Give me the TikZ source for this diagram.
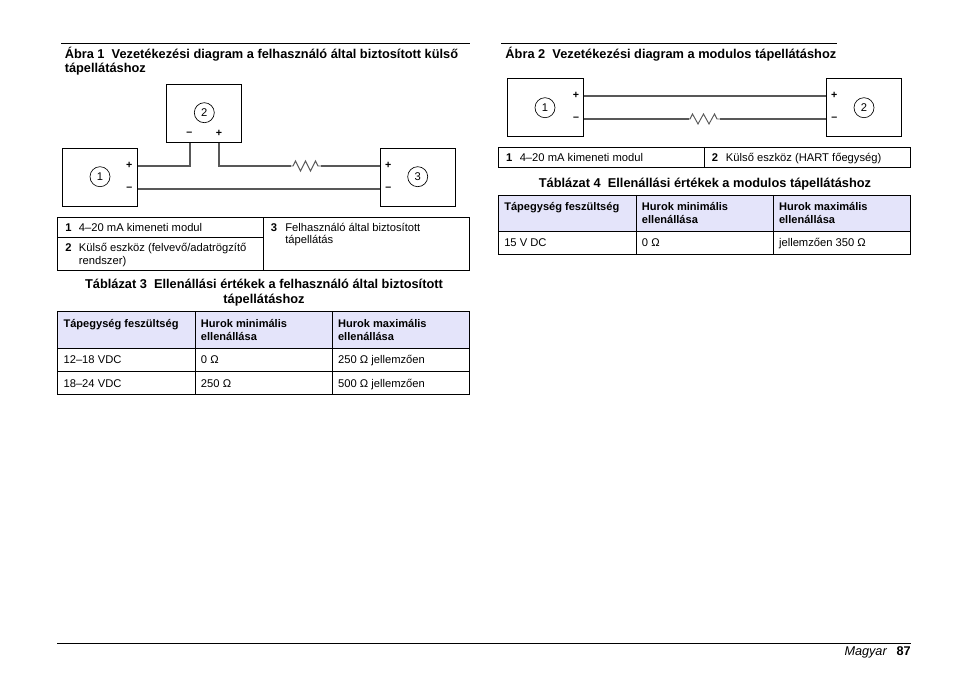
\documentclass[tikz,border=0pt]{standalone}
\usepackage{fontspec}
\setmainfont{Liberation Sans}
\definecolor{hdr}{HTML}{E4E4FA}
\definecolor{wire}{HTML}{585858}
\tikzset{
  x=0.75pt,y=-0.75pt,
  bodytext/.style={anchor=base west,inner sep=0pt,font=\fontsize{8.4}{9}\selectfont},
  boldtext/.style={bodytext,font=\fontsize{8.4}{9}\selectfont\bfseries},
  headtext/.style={anchor=base west,inner sep=0pt,font=\fontsize{8.3}{9}\selectfont\bfseries},
  titletext/.style={anchor=base west,inner sep=0pt,font=\fontsize{9.6}{11}\selectfont\bfseries},
  titlemid/.style={anchor=base,inner sep=0pt,font=\fontsize{9.6}{11}\selectfont\bfseries},
  devbox/.style={draw=black,line width=0.6pt,fill=white,inner sep=0pt},
  numcirc/.style={circle,draw=black,line width=0.5pt,minimum size=15pt,inner sep=0pt,font=\fontsize{8.4}{9}\selectfont},
  sign/.style={inner sep=0pt,font=\fontsize{8}{9}\selectfont\bfseries},
  wireline/.style={draw=wire,line width=1.2pt},
  rule/.style={line width=0.75pt},
  tableline/.style={line width=0.6pt},
}
\newcommand{\devrect}[5]{\node[devbox,minimum width=#4*0.75pt,minimum height=#5*0.75pt] (#1) at (#2,#3) {};}
\begin{document}
\begin{tikzpicture}
\useasboundingbox[fill=white] (0,0) rectangle (954,673);

% ---------- rules
\coordinate (r1a) at (61,43.5); \coordinate (r1b) at (470,43.5);
\coordinate (r2a) at (501,43.5); \coordinate (r2b) at (837,43.5);
\coordinate (r3a) at (57,643.5); \coordinate (r3b) at (911,643.5);
\draw[rule] (r1a) -- (r1b);
\draw[rule] (r2a) -- (r2b);
\draw[rule] (r3a) -- (r3b);

% ---------- titles
\node[titletext] (t1a) at (64.5,58.2) {Ábra 1\ \ Vezetékezési diagram a felhasználó által biztosított külső};
\node[titletext] (t1b) at (64.5,72.2) {tápellátáshoz};
\node[titletext] (t2) at (505.2,58.2) {Ábra 2\ \ Vezetékezési diagram a modulos tápellátáshoz};

% ---------- figure 1
\devrect{a1}{100}{177.5}{75.5}{58}
\devrect{a2}{204.2}{113.3}{75}{58}
\devrect{a3}{417.8}{177.5}{75.6}{58}
\node[numcirc] (c1) at (100,176.7) {1};
\node[numcirc] (c2) at (204.3,112.7) {2};
\node[numcirc] (c3) at (417.7,176.7) {3};
\node[sign] (ap) at (129.3,165.2) {+};
\node[sign] (am) at (129.3,189) {–};
\node[sign] (bm) at (189.3,134.3) {–};
\node[sign] (bp) at (219,133.8) {+};
\node[sign] (cp) at (388.3,165.2) {+};
\node[sign] (cm) at (388.3,189) {–};
\coordinate (rA) at (291,166);
\coordinate (rB) at (321,166);
\coordinate (j1) at (190,166);
\coordinate (j2) at (219,166);
\draw[wireline] (a1.east |- j1) -- (j1) -- (j1 |- a2.south);
\draw[wireline] (j2 |- a2.south) -- (j2) -- (rA);
\draw[wireline] (rB) -- (a3.west |- rB);
\draw[wireline] (a1.east |- am) -- (a3.west |- am);
\draw[draw=wire,line width=0.7pt,line join=miter] (rA) -- ++(2,0) -- ++(2.5,-5) -- ++(5,10) -- ++(5,-10) -- ++(5,10) -- ++(5,-10) -- ++(2.5,5) -- (rB);

% ---------- key table 1
\draw[tableline] (57.3,217.3) rectangle (469.3,270.3);
\draw[tableline] (263.3,217.3) -- (263.3,270.3);
\draw[tableline] (57.3,237.7) -- (263.3,237.7);
\node[boldtext] (k1n) at (65,231.5) {1};
\node[bodytext] (k1t) at (78.7,231.5) {4–20 mA kimeneti modul};
\node[boldtext] (k2n) at (65,251.5) {2};
\node[bodytext] (k2t) at (78.7,251.5) {Külső eszköz (felvevő/adatrögzítő};
\node[bodytext] (k2u) at (78.7,265) {rendszer)};
\node[boldtext] (k3n) at (270.7,231.5) {3};
\node[bodytext] (k3t) at (285,231.5) {Felhasználó által biztosított};
\node[bodytext] (k3u) at (285,243.5) {tápellátás};

% ---------- table 3
\node[titlemid] (t3a) at (264,289) {Táblázat 3\ \ Ellenállási értékek a felhasználó által biztosított};
\node[titlemid] (t3b) at (264,304) {tápellátáshoz};
\fill[hdr] (57.3,311.7) rectangle (469.3,348.3);
\draw[tableline] (57.3,311.7) rectangle (469.3,394.3);
\draw[tableline] (57.3,348.3) -- (469.3,348.3);
\draw[tableline] (57.3,371.3) -- (469.3,371.3);
\draw[tableline] (195.7,311.7) -- (195.7,394.3);
\draw[tableline] (332.5,311.7) -- (332.5,394.3);
\node[headtext] (h1) at (63.3,327.5) {Tápegység feszültség};
\node[headtext] (h2) at (200.7,327.5) {Hurok minimális};
\node[headtext] (h2b) at (200.7,341) {ellenállása};
\node[headtext] (h3) at (337.8,327.5) {Hurok maximális};
\node[headtext] (h3b) at (337.8,341) {ellenállása};
\node[bodytext] (d1) at (63.3,364) {12–18 VDC};
\node[bodytext] (d2) at (200.7,364) {0 Ω};
\node[bodytext] (d3) at (337.8,364) {250 Ω jellemzően};
\node[bodytext] (e1) at (63.3,388) {18–24 VDC};
\node[bodytext] (e2) at (200.7,388) {250 Ω};
\node[bodytext] (e3) at (337.8,388) {500 Ω jellemzően};

% ---------- figure 2
\devrect{f1}{545.3}{107.2}{76}{57.7}
\devrect{f2}{863.8}{107.2}{75.7}{57.7}
\node[numcirc] (g1) at (545,107.7) {1};
\node[numcirc] (g2) at (864,107.7) {2};
\node[sign] (fp) at (576,95.6) {+};
\node[sign] (fm) at (576,119) {–};
\node[sign] (gp) at (834.3,95.6) {+};
\node[sign] (gm) at (834.3,119) {–};
\coordinate (w1) at (583.3,96);
\coordinate (sA) at (689,119);
\coordinate (sB) at (720,119);
\draw[wireline] (f1.east |- w1) -- (f2.west |- w1);
\draw[wireline] (f1.east |- sA) -- (sA);
\draw[wireline] (sB) -- (f2.west |- sB);
\draw[draw=wire,line width=0.7pt] (sA) -- ++(1,0) -- ++(2.5,-5) -- ++(5.5,10) -- ++(5.5,-10) -- ++(5.5,10) -- ++(5.5,-10) -- ++(2.5,5) -- (sB);

% ---------- key table 2
\draw[tableline] (498.3,147.7) rectangle (910.7,167.5);
\draw[tableline] (704,147.7) -- (704,167.5);
\node[boldtext] (m1n) at (505.8,161.7) {1};
\node[bodytext] (m1t) at (519.5,161.7) {4–20 mA kimeneti modul};
\node[boldtext] (m2n) at (711.5,161.7) {2};
\node[bodytext] (m2t) at (725.7,161.7) {Külső eszköz (HART főegység)};

% ---------- table 4
\node[titlemid] (t4) at (705,187.7) {Táblázat 4\ \ Ellenállási értékek a modulos tápellátáshoz};
\fill[hdr] (498.3,195) rectangle (910.7,231.7);
\draw[tableline] (498.3,195) rectangle (910.7,254.3);
\draw[tableline] (498.3,231.7) -- (910.7,231.7);
\draw[tableline] (636.7,195) -- (636.7,254.3);
\draw[tableline] (773.7,195) -- (773.7,254.3);
\node[headtext] (n1) at (504,210.5) {Tápegység feszültség};
\node[headtext] (n2) at (641.7,210.5) {Hurok minimális};
\node[headtext] (n2b) at (641.7,224) {ellenállása};
\node[headtext] (n3) at (778.8,210.5) {Hurok maximális};
\node[headtext] (n3b) at (778.8,224) {ellenállása};
\node[bodytext] (o1) at (504,246.5) {15 V DC};
\node[bodytext] (o2) at (641.7,246.5) {0 Ω};
\node[bodytext] (o3) at (778.8,246.5) {jellemzően 350 Ω};

% ---------- footer
\node[anchor=base east,inner sep=0pt,font=\fontsize{9.5}{11}\selectfont\itshape] (fa) at (887,655.5) {Magyar};
\node[anchor=base east,inner sep=0pt,font=\fontsize{9.5}{11}\selectfont\bfseries] (fb) at (911,655.5) {87};
\end{tikzpicture}
\end{document}
